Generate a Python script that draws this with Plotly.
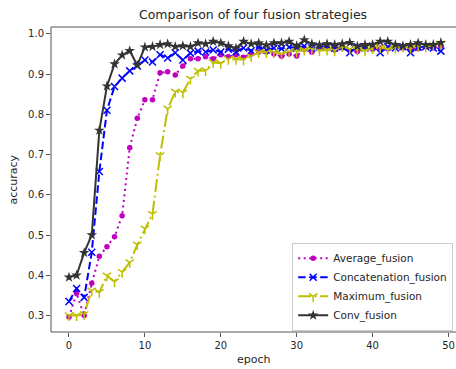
import plotly.graph_objects as go

epochs = list(range(50))

average_fusion = [0.296, 0.355, 0.300, 0.380, 0.447, 0.471, 0.496, 0.548, 0.717, 0.790,
                  0.836, 0.836, 0.903, 0.906, 0.898, 0.920, 0.938, 0.938, 0.943, 0.938,
                  0.948, 0.943, 0.948, 0.942, 0.950, 0.955, 0.955, 0.950, 0.944, 0.950,
                  0.945, 0.962, 0.954, 0.964, 0.964, 0.960, 0.965, 0.958, 0.956, 0.965,
                  0.962, 0.965, 0.963, 0.967, 0.965, 0.965, 0.963, 0.968, 0.965, 0.970]

concatenation_fusion = [0.335, 0.367, 0.345, 0.457, 0.658, 0.810, 0.869, 0.890, 0.908, 0.920,
                        0.935, 0.930, 0.948, 0.940, 0.953, 0.935, 0.952, 0.957, 0.955, 0.960,
                        0.955, 0.962, 0.955, 0.965, 0.958, 0.967, 0.960, 0.965, 0.963, 0.967,
                        0.965, 0.970, 0.965, 0.968, 0.970, 0.965, 0.968, 0.953, 0.968, 0.965,
                        0.970, 0.953, 0.968, 0.965, 0.968, 0.953, 0.967, 0.968, 0.965, 0.957]

maximum_fusion = [0.300, 0.300, 0.303, 0.362, 0.358, 0.399, 0.384, 0.408, 0.432, 0.476,
                  0.516, 0.552, 0.698, 0.814, 0.856, 0.854, 0.888, 0.908, 0.909, 0.929,
                  0.927, 0.937, 0.937, 0.936, 0.944, 0.954, 0.954, 0.954, 0.950, 0.956,
                  0.956, 0.960, 0.962, 0.958, 0.960, 0.958, 0.969, 0.962, 0.960, 0.958,
                  0.964, 0.966, 0.962, 0.965, 0.968, 0.965, 0.970, 0.968, 0.972, 0.975]

conv_fusion = [0.395, 0.400, 0.456, 0.500, 0.760, 0.870, 0.925, 0.947, 0.958, 0.922,
               0.967, 0.968, 0.973, 0.975, 0.968, 0.970, 0.968, 0.977, 0.975, 0.981,
               0.977, 0.970, 0.964, 0.981, 0.975, 0.977, 0.972, 0.977, 0.977, 0.981,
               0.970, 0.985, 0.975, 0.972, 0.975, 0.973, 0.975, 0.978, 0.969, 0.973,
               0.973, 0.981, 0.981, 0.973, 0.970, 0.973, 0.977, 0.973, 0.973, 0.978]

x_ticks = [0, 10, 20, 30, 40, 50]
y_ticks = [0.3, 0.4, 0.5, 0.6, 0.7, 0.8, 0.9, 1.0]

FONT = "DejaVu Sans"
TXT = "#262626"
EDGE = "#555555"

fig = go.Figure()
fig.add_trace(go.Scatter(
    x=epochs, y=average_fusion, name="Average_fusion", mode="lines+markers",
    line=dict(color="#bf00bf", width=2, dash="2px,3.5px"),
    marker=dict(symbol="circle", size=5.5, color="#bf00bf")))
fig.add_trace(go.Scatter(
    x=epochs, y=concatenation_fusion, name="Concatenation_fusion", mode="lines+markers",
    line=dict(color="#0000ff", width=2, dash="7.5px,3.5px"),
    marker=dict(symbol="x-thin", size=7, color="#0000ff", line=dict(width=1.5, color="#0000ff"))))
fig.add_trace(go.Scatter(
    x=epochs, y=maximum_fusion, name="Maximum_fusion", mode="lines+markers",
    line=dict(color="#bfbf00", width=2, dash="13px,3.5px,2px,3.5px"),
    marker=dict(symbol="y-down", size=7, color="#bfbf00", line=dict(width=1.5, color="#bfbf00"))))
fig.add_trace(go.Scatter(
    x=epochs, y=conv_fusion, name="Conv_fusion", mode="lines+markers",
    line=dict(color="#333333", width=2),
    marker=dict(symbol="star", size=8, color="#333333")))

fig.add_shape(type="rect", xref="paper", yref="paper", x0=0, x1=1.02, y0=0, y1=1,
              line=dict(color=EDGE, width=1), layer="above")

fig.add_annotation(text="epoch", xref="paper", yref="paper", x=0.5, y=-(359 - 332) / 305,
                   xanchor="center", yanchor="middle", showarrow=False,
                   font=dict(size=11, color=TXT, family=FONT))
fig.add_annotation(text="accuracy", xref="paper", yref="paper", x=-(51 - 13) / 405, y=0.5,
                   xanchor="center", yanchor="middle", showarrow=False, textangle=-90,
                   font=dict(size=11, color=TXT, family=FONT))

fig.update_layout(
    width=456, height=369,
    margin=dict(l=51, r=0, t=27, b=37, autoexpand=False),
    paper_bgcolor="white", plot_bgcolor="white",
    font=dict(family=FONT, color=TXT, size=10),
    title=dict(text="Comparison of four fusion strategies", x=253 / 456, xanchor="center",
               xref="container", y=1 - 15 / 369, yref="container", yanchor="middle",
               font=dict(size=12.5, color=TXT, family=FONT), automargin=False),
    showlegend=True,
    legend=dict(x=0.993, y=0.004, xanchor="right", yanchor="bottom",
                bgcolor="rgba(255,255,255,0.8)", bordercolor="#cccccc", borderwidth=1,
                font=dict(size=10.5, color=TXT, family=FONT), tracegroupgap=0,
                itemwidth=30),
    xaxis=dict(range=[-2.37, 50.99], tickvals=x_ticks, ticks="outside", ticklen=4,
               tickcolor=EDGE, showgrid=False, zeroline=False, showline=False,
               automargin=False, tickfont=dict(size=10, color=TXT)),
    yaxis=dict(range=[0.259, 1.017], tickvals=y_ticks, ticktext=[f"{v:.1f}" for v in y_ticks],
               ticks="outside", ticklen=4, tickcolor=EDGE, showgrid=False, zeroline=False,
               showline=False, automargin=False, tickfont=dict(size=10, color=TXT)),
)

fig.write_html("out.html", config={"displayModeBar": False},
               post_script="document.body.style.margin='0px';document.body.style.overflow='hidden';")
